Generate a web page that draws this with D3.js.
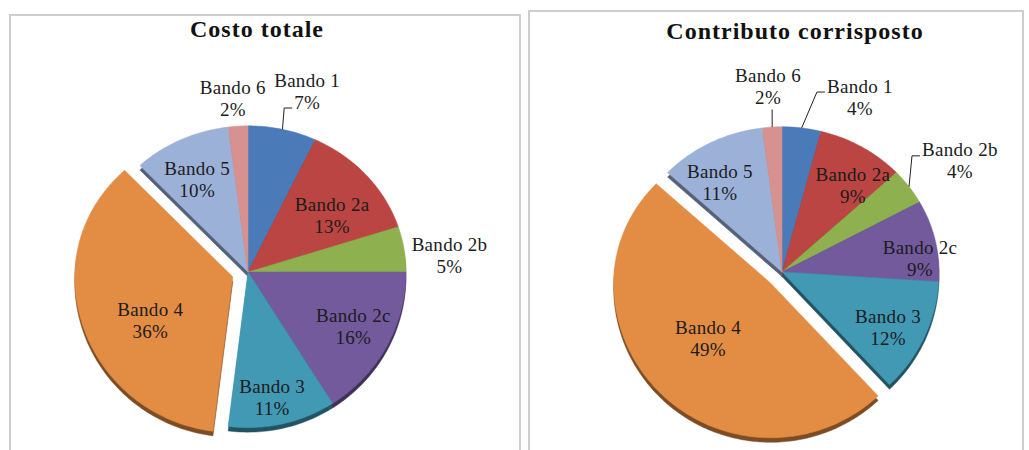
<!DOCTYPE html>
<html><head><meta charset="utf-8">
<script src="https://cdn.jsdelivr.net/npm/d3@7"></script>
<style>body{margin:0;background:#fff}svg{display:block}</style>
</head><body>
<svg id="c" width="1029" height="450"></svg>
<script>
// ---------- data ----------
const categories = ["Bando 1","Bando 2a","Bando 2b","Bando 2c","Bando 3","Bando 4","Bando 5","Bando 6"];
const costoTotaleValues = [7,13,5,16,11,36,10,2];
const contributoValues  = [4,9,4,9,12,49,11,2];
const chartTitles = ["Costo totale","Contributo corrisposto"];
const sliceColors = ["#4a7ab8","#bb4542","#8fb04f","#735a9c","#4199b4","#e38c43","#9cb1d8","#d79290"];
const explodedCategory = "Bando 4";
// label placement (radius factor, angle shift in degrees)
const costoLabelRadius = [1.205,0.64,1.28,0.75,0.81,0.59,0.67,1.10];
const costoLabelShift  = [5.5,7.7,4.2,-1.6,1.7,-9.8,-3.5,-1.4];
const contributoLabelRadius = [1.22,0.71,1.336,0.883,0.764,0.534,0.696,1.185];
const contributoLabelShift  = [16.8,8.9,4,7.2,2.6,3.4,-7.6,-0.7];
const costoLeaders = [{type:"left",line:1},null,null,null,null,null,null,null];
const contributoLeaders = [{type:"left",line:0},null,{type:"left",line:0},null,null,null,null,{type:"bottom"}];

// ---------- layout ----------
const svg = d3.select("#c");
const panels = [
  {x:10, y:15, w:510, h:450, cx:248, cy:272, r:158, tx:257, ty:37,
   values:costoTotaleValues, lr:costoLabelRadius, ls:costoLabelShift, leaders:costoLeaders},
  {x:529, y:11, w:494, h:450, cx:782, cy:272, r:157, tx:795, ty:39,
   values:contributoValues, lr:contributoLabelRadius, ls:contributoLabelShift, leaders:contributoLeaders}
];
const KT = 0.925, KB = 0.985, DEPTH = 4.5, EXPLODE = 16;
const FONT = "'Liberation Serif','Times New Roman',serif";

function proj(cx, cy, a, rad){
  const x = rad*Math.sin(a), y = -rad*Math.cos(a);
  return [cx + x, cy + y*(y<0?KT:KB)];
}
const line = d3.line();

panels.forEach((p, pi) => {
  svg.append("rect").attr("x",p.x).attr("y",p.y).attr("width",p.w).attr("height",p.h)
    .attr("fill","#fff").attr("stroke","#cdcdcd").attr("stroke-width",2);
  svg.append("text").attr("x",p.tx).attr("y",p.ty).attr("text-anchor","middle")
    .attr("font-family",FONT).attr("font-weight","bold").attr("font-size",24)
    .attr("letter-spacing",1).attr("fill","#111")
    .text(chartTitles[pi]);

  const data = categories.map((c,i)=>({cat:c, value:p.values[i], color:sliceColors[i], i}));
  const total = d3.sum(data, d=>d.value);
  const arcs = d3.pie().sort(null).value(d=>d.value)(data);
  arcs.forEach(a => {
    a.mid = (a.startAngle + a.endAngle)/2;
    if (a.data.cat === explodedCategory){
      const e = proj(0,0,a.mid,EXPLODE); a.ox = e[0]; a.oy = e[1];
    } else { a.ox = 0; a.oy = 0; }
    const pts = [[p.cx+a.ox, p.cy+a.oy]];
    const n = Math.max(2, Math.ceil((a.endAngle-a.startAngle)/(Math.PI/180)));
    for (let k=0;k<=n;k++){
      const ang = a.startAngle + (a.endAngle-a.startAngle)*k/n;
      pts.push(proj(p.cx+a.ox, p.cy+a.oy, ang, p.r));
    }
    a.pts = pts;
  });
  const g = svg.append("g");
  // side walls (depth)
  g.selectAll("path.side").data(arcs).enter().append("path").attr("class","side")
    .attr("d", a => line(a.pts.map(q=>[q[0], q[1]+DEPTH])) + "Z")
    .attr("fill", a => d3.color(a.data.color).darker(1.7))
    .attr("stroke", a => d3.color(a.data.color).darker(1.7)).attr("stroke-width",0.5);
  // top faces
  g.selectAll("path.face").data(arcs).enter().append("path").attr("class","face")
    .attr("d", a => line(a.pts) + "Z")
    .attr("fill", a => a.data.color)
    .attr("stroke", a => a.data.color).attr("stroke-width",0.5);

  // labels
  arcs.forEach((a, i) => {
    const ang = a.mid + p.ls[i]*Math.PI/180;
    const d = p.lr[i]*p.r;
    const lx = p.cx + a.ox + d*Math.sin(ang);
    const ly = p.cy + a.oy - d*Math.cos(ang);
    const pct = Math.round(a.data.value/total*100) + "%";
    const lines = [a.data.cat, pct];
    const texts = lines.map((t, li) => svg.append("text")
      .attr("x", lx).attr("y", ly + (li===0?-11:11) + 6.5)
      .attr("text-anchor","middle").attr("font-family",FONT).attr("font-size",19)
      .attr("letter-spacing",0.3).attr("fill","#1c1c1c").text(t));
    const ld = p.leaders[i];
    if (ld){
      const s = proj(p.cx+a.ox, p.cy+a.oy, a.mid, p.r);
      if (ld.type === "left"){
        const bb = texts[ld.line].node().getBBox();
        const ay = ly + (ld.line===0?-11:11) + 6;
        const ex = bb.x - 2;
        svg.append("path").attr("d", line([s, [ex-8, ay], [ex, ay]]))
          .attr("fill","none").attr("stroke","#222").attr("stroke-width",1);
      } else {
        const ay = ly + 11 + 12;
        svg.append("path").attr("d", line([s, [s[0], ay]]))
          .attr("fill","none").attr("stroke","#222").attr("stroke-width",1);
      }
    }
  });
});
</script>
</body></html>
